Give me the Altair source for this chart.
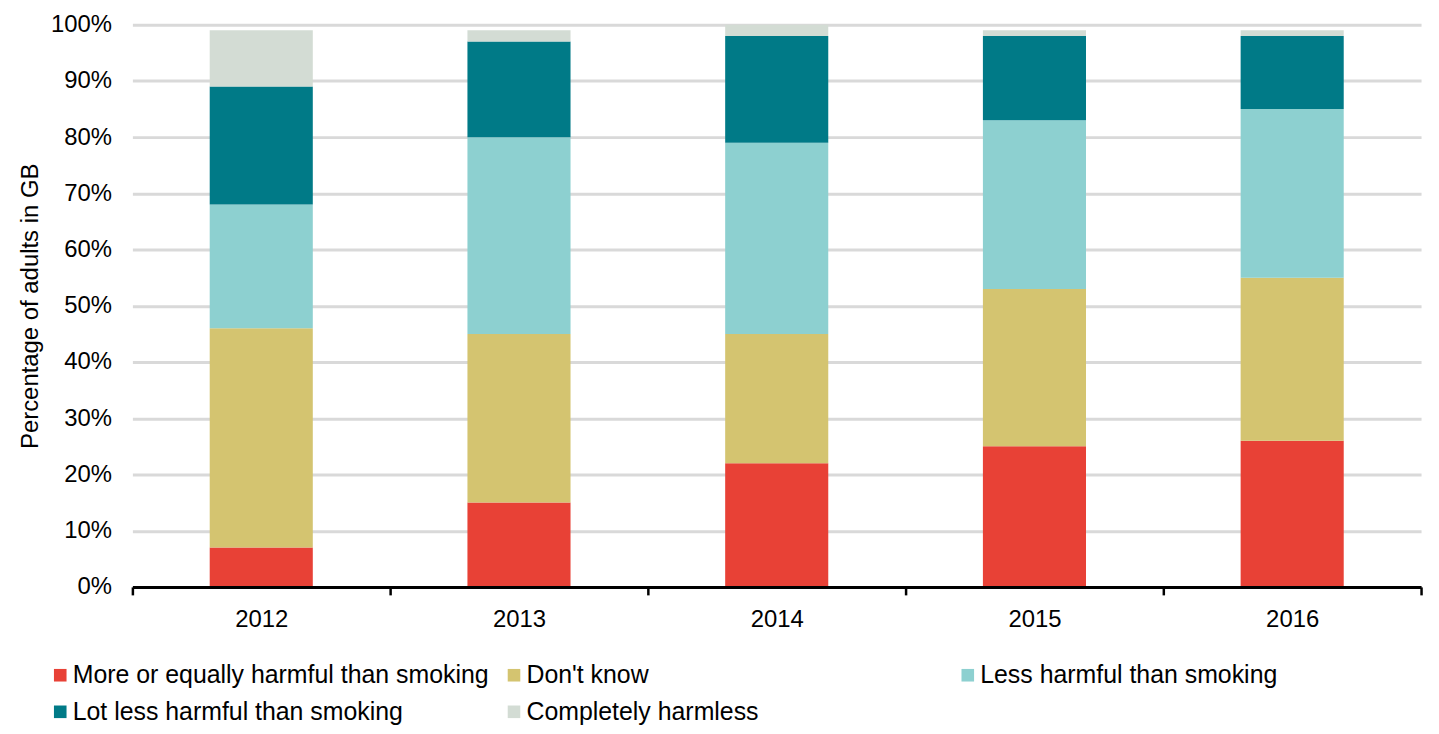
import altair as alt
import pandas as pd

years = ["2012", "2013", "2014", "2015", "2016"]
categories = [
    "More or equally harmful than smoking",
    "Don't know",
    "Less harmful than smoking",
    "Lot less harmful than smoking",
    "Completely harmless",
]
colors = ["#E84136", "#D4C470", "#8DD0D0", "#007A87", "#D3DCD4"]

more_harmful = [7, 15, 22, 25, 26]
dont_know = [39, 30, 23, 28, 29]
less_harmful = [22, 35, 34, 30, 30]
lot_less = [21, 17, 19, 15, 13]
harmless = [10, 2, 2, 1, 1]

series = [more_harmful, dont_know, less_harmful, lot_less, harmless]
rows = []
for ci, (cat, vals) in enumerate(zip(categories, series)):
    for y, v in zip(years, vals):
        rows.append({"year": y, "category": cat, "value": v, "order": ci})
df = pd.DataFrame(rows)

font = "Liberation Sans"

chart = alt.Chart(df).mark_bar(width=alt.RelativeBandSize(0.4)).encode(
    x=alt.X(
        "year:N",
        title=None,
        scale=alt.Scale(paddingInner=0, paddingOuter=0),
        axis=alt.Axis(
            labelAngle=0,
            labelFontSize=24,
            labelFont=font,
            labelColor="#000000",
            labelPadding=13,
            tickBand="extent",
            tickColor="#000000",
            tickWidth=2.5,
            tickSize=8,
            domainColor="#000000",
            domainWidth=3,
            grid=False,
            zindex=2,
        ),
    ),
    y=alt.Y(
        "value:Q",
        stack="zero",
        title="Percentage of adults in GB",
        scale=alt.Scale(domain=[0, 100], nice=False, clamp=True),
        axis=alt.Axis(
            values=[0, 10, 20, 30, 40, 50, 60, 70, 80, 90, 100],
            labelExpr="datum.value + '%'",
            labelFontSize=24,
            labelFont=font,
            labelColor="#000000",
            labelPadding=21,
            ticks=False,
            domain=False,
            gridColor="#D9D9D9",
            gridWidth=3,
            titleFont=font,
            titleFontSize=24,
            titleFontWeight="normal",
            titleColor="#000000",
            titlePadding=8,
        ),
    ),
    color=alt.Color(
        "category:N",
        scale=alt.Scale(domain=categories, range=colors),
        legend=alt.Legend(
            title=None,
            orient="none",
            legendX=-85,
            legendY=641,
            direction="horizontal",
            columns=3,
            gridAlign="all",
            columnPadding=12,
            rowPadding=11,
            symbolType="square",
            symbolSize=160,
            symbolStrokeWidth=0,
            labelFont=font,
            labelFontSize=25,
            labelColor="#000000",
            labelLimit=600,
            labelOffset=0,
            padding=0,
        ),
    ),
    order=alt.Order("order:Q", sort="ascending"),
).properties(
    width=1295,
    height=565,
    autosize=alt.AutoSizeParams(type="none"),
    padding={"left": 125, "top": 15, "right": 10, "bottom": 138},
).configure_view(stroke=None)

chart.save("out.html", embed_options={"renderer": "svg", "actions": False})
